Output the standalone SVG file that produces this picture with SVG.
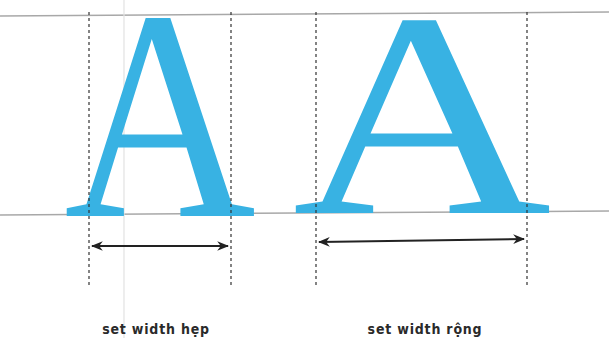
<svg xmlns="http://www.w3.org/2000/svg" width="609" height="338" viewBox="0 0 609 338">
<style>
.guide{stroke:#a8a8a8;stroke-width:1.5;fill:none}
.dash{stroke:#333;stroke-width:1.2;stroke-dasharray:3,3;fill:none}
.arrow{stroke:#222;stroke-width:2;fill:none;marker-start:url(#ah);marker-end:url(#ah)}
.glyph{font-family:"Liberation Serif","Times New Roman",serif;fill:#38b2e3;text-anchor:middle}
.label{font-family:"DejaVu Sans Condensed","DejaVu Sans",sans-serif;font-weight:bold;font-size:14px;letter-spacing:0.8px;fill:#2a2a2a;text-anchor:middle}
</style>
<defs>
<marker id="ah" viewBox="0 0 10 10" refX="9" refY="5" markerWidth="6" markerHeight="6" orient="auto-start-reverse" markerUnits="strokeWidth">
<path d="M0,1 L10,5 L0,9 L3,5 Z" fill="#222"/>
</marker>
</defs>
<rect width="609" height="338" fill="#fff"/>
<g id="guides">
<line class="guide" x1="0" y1="16" x2="609" y2="12"/>
<line class="guide" x1="0" y1="215" x2="609" y2="211"/>
<line x1="124" y1="0" x2="124" y2="338" stroke="#e2e2e2" stroke-width="1.2"/>
</g>
<g id="letter-narrow">
<text class="glyph" font-size="300" transform="translate(160,216) scale(0.885,1)">A</text>
</g>
<g id="letter-wide">
<text class="glyph" font-size="292" transform="translate(422,213) scale(1.23,1)">A</text>
</g>
<g id="connectors">
<line class="dash" x1="89" y1="12" x2="89" y2="285"/>
<line class="dash" x1="231" y1="12" x2="231" y2="285"/>
<line class="dash" x1="316" y1="12" x2="316" y2="285"/>
<line class="dash" x1="527" y1="12" x2="527" y2="285"/>
<line class="arrow" x1="92" y1="246" x2="228" y2="246"/>
<line class="arrow" x1="319" y1="242" x2="524" y2="239"/>
</g>
<g id="label-narrow">
<text class="label" x="156" y="334">set width hẹp</text>
</g>
<g id="label-wide">
<text class="label" x="425" y="334">set width rộng</text>
</g>
</svg>
